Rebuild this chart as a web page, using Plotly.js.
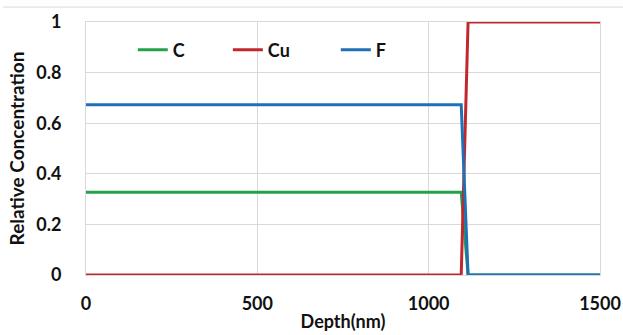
<!DOCTYPE html>
<html>
<head>
<meta charset="utf-8">
<script src="https://cdn.plot.ly/plotly-3.0.1.min.js"></script>
<style>html,body{margin:0;padding:0;background:#fff;}#chart{width:623px;height:335px;}</style>
</head>
<body>
<div id="chart"></div>
<script>
const depth = [0, 1095, 1115, 1500];
const cValues = [0.327, 0.327, 0, 0];
const cuValues = [0, 0, 1, 1];
const fValues = [0.673, 0.673, 0, 0];
const seriesNames = ['C', 'Cu', 'F'];
const xTicks = [0, 500, 1000, 1500];
const yTicks = [0, 0.2, 0.4, 0.6, 0.8, 1];
const yTickText = ['0', '0.2', '0.4', '0.6', '0.8', '1'];

const FONT = 'Lato, "Open Sans", sans-serif';
const colors = ['#24a24a', '#c1272d', '#1f70b7'];
const legendNames = ['legend', 'legend2', 'legend3'];

const traces = [cValues, cuValues, fValues].map((vals, i) => ({
  type: 'scatter', mode: 'lines',
  x: depth, y: vals, name: seriesNames[i],
  line: {color: colors[i], width: 3},
  legend: legendNames[i]
}));

const legendBase = {
  orientation: 'h', yanchor: 'middle', xanchor: 'left', y: 0.889,
  bgcolor: 'rgba(0,0,0,0)', borderwidth: 0,
  font: {family: FONT, size: 18, color: '#111', weight: 'bold'}
};

const layout = {
  width: 623, height: 335,
  margin: {l: 86, r: 23, t: 22, b: 60},
  paper_bgcolor: '#fff', plot_bgcolor: '#fff',
  showlegend: true,
  font: {family: FONT, color: '#111'},
  legend: Object.assign({}, legendBase, {x: 0.091}),
  legend2: Object.assign({}, legendBase, {x: 0.276}),
  legend3: Object.assign({}, legendBase, {x: 0.486}),
  xaxis: {
    range: [0, 1500], tickvals: xTicks, ticktext: xTicks.map(String),
    showgrid: true, gridcolor: '#d9d9d9', gridwidth: 1,
    showline: true, linecolor: '#d9d9d9', linewidth: 1, mirror: true,
    zeroline: false, ticks: '', ticklabelstandoff: 12,
    tickfont: {family: FONT, size: 18, color: '#111', weight: 'bold'},
    title: {text: 'Depth(nm)', standoff: 2, font: {family: FONT, size: 18, color: '#111', weight: 'bold'}},
    fixedrange: true
  },
  yaxis: {
    range: [0, 1], tickvals: yTicks, ticktext: yTickText,
    showgrid: true, gridcolor: '#d9d9d9', gridwidth: 1,
    showline: true, linecolor: '#d9d9d9', linewidth: 1, mirror: true,
    zeroline: false, ticks: '', ticklabelstandoff: 20,
    tickfont: {family: FONT, size: 18, color: '#111', weight: 'bold'},
    title: {text: 'Relative Concentration', standoff: 6, font: {family: FONT, size: 19, color: '#111', weight: 'bold'}},
    fixedrange: true
  },
  shapes: [{
    type: 'line', xref: 'paper', yref: 'paper',
    x0: -0.161, x1: 1.045, y0: 1.059, y1: 1.059,
    line: {color: '#d9d9d9', width: 1}
  }]
};

Plotly.newPlot('chart', traces, layout, {displayModeBar: false, staticPlot: true});
</script>
</body>
</html>
